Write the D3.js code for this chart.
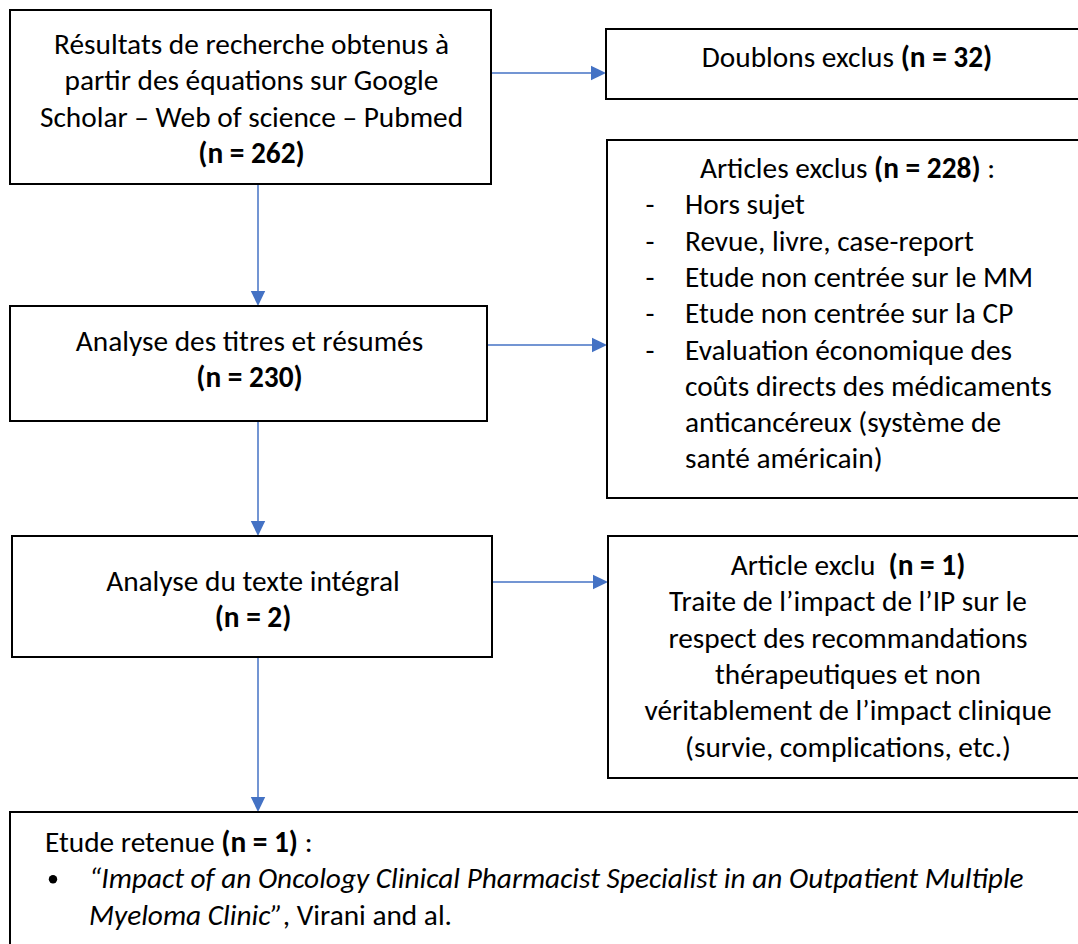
<!DOCTYPE html>
<html>
<head>
<meta charset="utf-8">
<title>Sélection des études</title>
<script src="https://d3js.org/d3.v7.min.js"></script>
<style>
  body { margin: 0; background: #fff; }
  svg text { font-family: Carlito, Lato, sans-serif; fill: #000; white-space: pre; }
  .box { fill: #fff; stroke: #000; stroke-width: 2; }
  .link { stroke: #4472c4; stroke-width: 1.5; fill: none; }
  .head { fill: #4472c4; stroke: none; }
</style>
</head>
<body>
<script>
// étapes du tri (colonne de gauche)
var stepLabels = [
  ["Résultats de recherche obtenus à", "partir des équations sur Google", "Scholar – Web of science – Pubmed"],
  ["Analyse des titres et résumés"],
  ["Analyse du texte intégral"]
];
var stepCounts = [262, 230, 2];

// exclusions (colonne de droite)
var excludedTitles = ["Doublons exclus ", "Articles exclus ", "Article exclu  "];
var excludedCounts = [32, 228, 1];
var excludedSuffix = ["", " :", ""];
var excludedReasons = [
  ["Hors sujet"],
  ["Revue, livre, case-report"],
  ["Etude non centrée sur le MM"],
  ["Etude non centrée sur la CP"],
  ["Evaluation économique des", "coûts directs des médicaments", "anticancéreux (système de", "santé américain)"]
];
var excludedNote = [
  "Traite de l’impact de l’IP sur le",
  "respect des recommandations",
  "thérapeutiques et non",
  "véritablement de l’impact clinique",
  "(survie, complications, etc.)"
];

// étude retenue
var includedTitle = "Etude retenue ";
var includedCount = 1;
var includedRefTitle = ["“Impact of an Oncology Clinical Pharmacist Specialist in an Outpatient Multiple", "Myeloma Clinic”"];
var includedRefAuthors = ", Virani and al.";

// mise en page
var W = 1078, H = 944;
var lineH = 36.3;
var stepBoxes = [
  { x: 10, y: 10, w: 481, h: 174, top: 44 },
  { x: 10, y: 306, w: 477, h: 115, top: 45 },
  { x: 12, y: 536, w: 480, h: 121, top: 55 }
];
var exclBoxes = [
  { x: 606, y: 29, w: 482, h: 70, top: 38 },
  { x: 607, y: 140, w: 481, h: 358, top: 38 },
  { x: 608, y: 536, w: 480, h: 242, top: 39 }
];
var inclBox = { x: 10, y: 812, w: 1090, h: 160, top: 40 };
var spineX = 258;
var arrowY = [73, 345, 582];

var svg = d3.select("body").append("svg")
  .attr("width", W)
  .attr("height", H);

// taille de police ajustée sur la largeur mesurée d'une ligne de référence
function measure(str, size, italic) {
  var t = svg.append("text").attr("font-size", size).style("font-style", italic ? "italic" : "normal").text(str);
  var w = t.node().getComputedTextLength();
  t.remove();
  return w;
}
var fs = 30 * 395 / measure(stepLabels[0][0], 30, false);
var fsBottom = 30 * 935 / measure(includedRefTitle[0], 30, true);

function addLine(g, x, y, segs, anchor, size) {
  var t = g.append("text")
    .attr("x", x).attr("y", y)
    .attr("font-size", size || fs)
    .attr("text-anchor", anchor || "middle");
  segs.forEach(function (s) {
    t.append("tspan")
      .attr("font-weight", s.b ? "bold" : "normal")
      .style("font-style", s.i ? "italic" : "normal")
      .text(s.t);
  });
  return t;
}

function drawBox(b) {
  svg.append("rect").attr("class", "box")
    .attr("x", b.x).attr("y", b.y).attr("width", b.w).attr("height", b.h);
}

// flèches
function arrow(x1, y1, x2, y2) {
  var len = 15, half = 7.2;
  var dx = x2 - x1, dy = y2 - y1, d = Math.sqrt(dx * dx + dy * dy);
  var ux = dx / d, uy = dy / d;
  var bx = x2 - ux * len, by = y2 - uy * len;
  svg.append("line").attr("class", "link")
    .attr("x1", x1).attr("y1", y1).attr("x2", bx).attr("y2", by);
  svg.append("path").attr("class", "head")
    .attr("d", d3.line()([[x2, y2], [bx - uy * half, by + ux * half], [bx + uy * half, by - ux * half]]) + "Z");
}

stepBoxes.forEach(function (b, i) {
  arrow(b.x + b.w, arrowY[i], exclBoxes[i].x, arrowY[i]);
});
arrow(spineX, stepBoxes[0].y + stepBoxes[0].h, spineX, stepBoxes[1].y);
arrow(spineX, stepBoxes[1].y + stepBoxes[1].h, spineX, stepBoxes[2].y);
arrow(spineX, stepBoxes[2].y + stepBoxes[2].h, spineX, inclBox.y);

// boîtes de gauche
stepBoxes.forEach(function (b, i) {
  drawBox(b);
  var g = svg.append("g");
  var cx = b.x + b.w / 2 + 1;
  var y0 = b.y + b.top;
  stepLabels[i].forEach(function (l, k) {
    addLine(g, cx, y0 + k * lineH, [{ t: l }]);
  });
  addLine(g, cx, y0 + stepLabels[i].length * lineH, [{ t: "(n = " + stepCounts[i] + ")", b: true }]);
});

// boîtes de droite
exclBoxes.forEach(function (b, i) {
  drawBox(b);
  var g = svg.append("g");
  var cx = b.x + b.w / 2;
  var y0 = b.y + b.top;
  addLine(g, cx, y0, [
    { t: excludedTitles[i] },
    { t: "(n = " + excludedCounts[i] + ")", b: true },
    { t: excludedSuffix[i] }
  ]);
  if (i === 1) {
    var k = 1;
    excludedReasons.forEach(function (item) {
      addLine(g, b.x + 43, y0 + k * lineH, [{ t: "-" }], "middle");
      item.forEach(function (l) {
        addLine(g, b.x + 78, y0 + k * lineH, [{ t: l }], "start");
        k++;
      });
    });
  }
  if (i === 2) {
    excludedNote.forEach(function (l, k) {
      addLine(g, cx, y0 + (k + 1) * lineH, [{ t: l }]);
    });
  }
});

// étude retenue
drawBox(inclBox);
var gi = svg.append("g");
var iy = inclBox.y + inclBox.top;
addLine(gi, 45, iy, [
  { t: includedTitle },
  { t: "(n = " + includedCount + ")", b: true },
  { t: " :" }
], "start");
gi.append("circle").attr("cx", 53).attr("cy", iy + lineH - 9).attr("r", 4.2).attr("fill", "#000");
addLine(gi, 89, iy + lineH, [{ t: includedRefTitle[0], i: true }], "start", fsBottom);
addLine(gi, 89, iy + 2 * lineH, [
  { t: includedRefTitle[1], i: true },
  { t: includedRefAuthors }
], "start", fsBottom);
</script>
</body>
</html>
